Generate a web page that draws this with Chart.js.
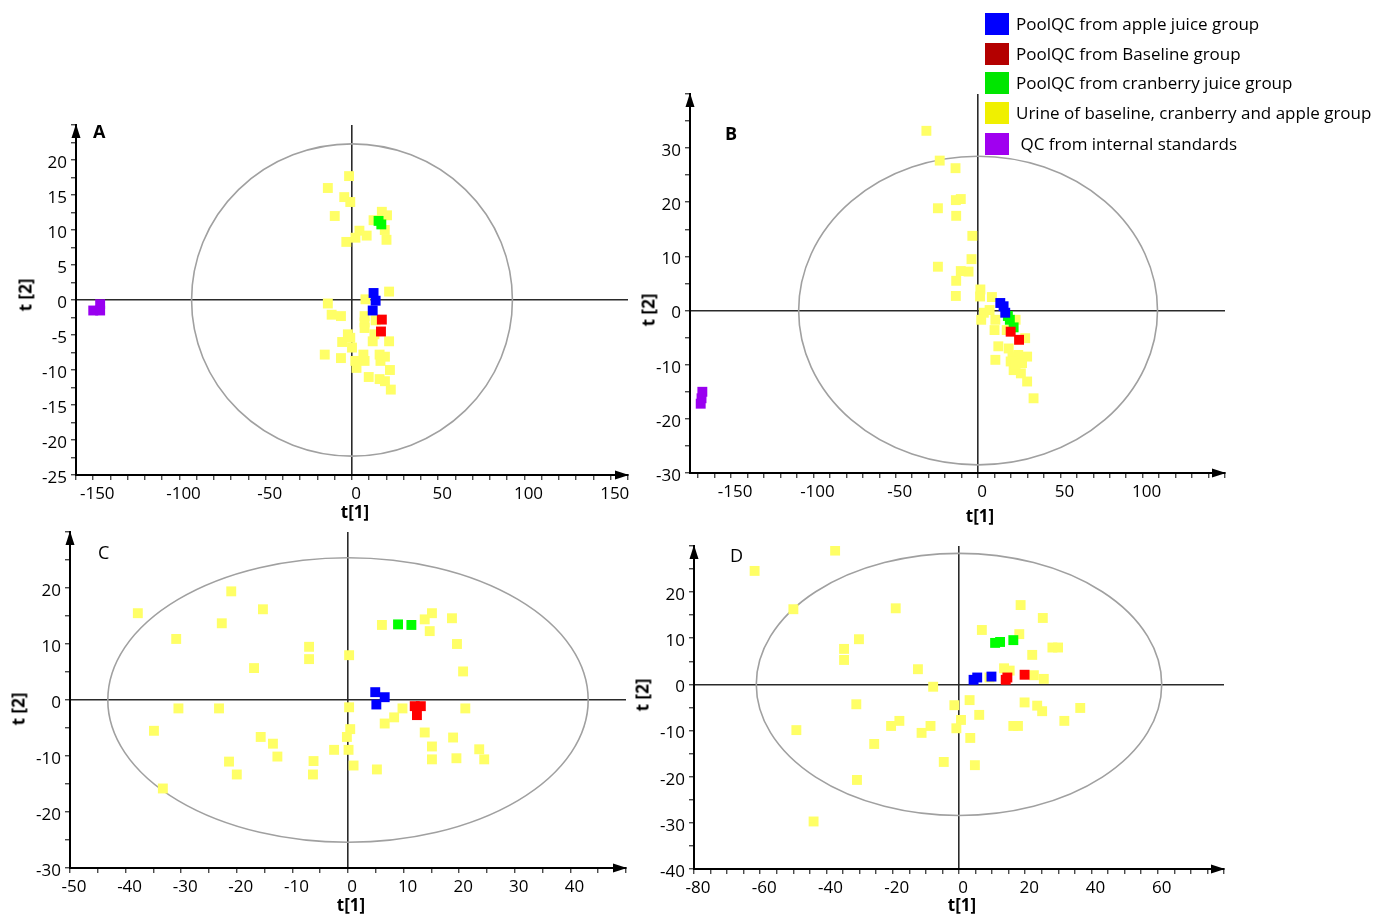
<!DOCTYPE html>
<html>
<head>
<meta charset="utf-8">
<script src="https://cdn.jsdelivr.net/npm/chart.js@4.4.1/dist/chart.umd.min.js"></script>
<style>
body { margin: 0; background: #fff; width: 1376px; height: 914px; position: relative; overflow: hidden; font-family: "Open Sans", sans-serif; color: #000; }
canvas { position: absolute; }
.txt { position: absolute; font-size: 17px; line-height: 17px; white-space: nowrap; }
.title { font-weight: bold; transform: translate(-50%, -50%); }
.ytitle { font-weight: bold; transform: translate(-50%, -50%) rotate(-90deg); }
.leg-box { position: absolute; left: 985px; width: 24px; height: 22px; }
.leg-text { position: absolute; left: 1016px; font-size: 17px; line-height: 22px; white-space: nowrap; }
</style>
</head>
<body>
<canvas id="chartA"></canvas>
<canvas id="chartB"></canvas>
<canvas id="chartC"></canvas>
<canvas id="chartD"></canvas>

<div class="txt" style="left:93px;top:123px;font-weight:bold;font-size:18px">A</div>
<div class="txt" style="left:725px;top:125px;font-weight:bold;font-size:18px">B</div>
<div class="txt" style="left:98px;top:544px;font-size:18px">C</div>
<div class="txt" style="left:730px;top:547px;font-size:18px">D</div>

<div class="txt title" style="left:355px;top:511px">t[1]</div>
<div class="txt title" style="left:980px;top:515px">t[1]</div>
<div class="txt title" style="left:351px;top:904px">t[1]</div>
<div class="txt title" style="left:962px;top:904px">t[1]</div>
<div class="txt ytitle" style="left:25px;top:295px">t [2]</div>
<div class="txt ytitle" style="left:648px;top:310px">t [2]</div>
<div class="txt ytitle" style="left:18px;top:709px">t [2]</div>
<div class="txt ytitle" style="left:642px;top:695px">t [2]</div>

<div id="legend"></div>

<script>
// legend
const legendLabels = [
    "PoolQC from apple juice group",
    "PoolQC from Baseline group",
    "PoolQC from cranberry juice group",
    "Urine of baseline, cranberry and apple group",
    "\u00a0QC from internal standards"
];
const legendColors = ['#0000ff', '#b40000', '#00e600', '#f0f000', '#a000f0'];
const legendTops = [13, 43, 72, 102, 133];

// point colours in the plots
const pointColors = {
    apple: '#0000ff',
    baseline: '#ff0000',
    cranberry: '#00ff00',
    urine: '#ffff66',
    istd: '#9900f0'
};

// ---- panel A ----
const A_apple = [[12.5, 1.0], [13.7, -0.1], [12.0, -1.5]];
const A_baseline = [[17.3, -2.8], [16.8, -4.5]];
const A_cranberry = [[15.4, 11.3], [17.0, 10.8]];
const A_istd = [[-146, -0.6], [-150, -1.5], [-146, -1.5]];
const A_urine = [
    [-1.7, 17.7], [-14, 16], [-4.5, 14.7], [-1, 14], [-10, 12], [17.3, 12.6], [20.3, 12.1],
    [12.5, 11.4], [19, 10], [4.3, 9.9], [8.5, 9.2], [2, 8.9], [-3.3, 8.3], [20, 8.6],
    [21.5, 1.2], [7.8, 0.1], [-14, -0.5], [-11.8, -2.1], [-6.4, -2.3], [7.3, -2.3], [7.3, -3.2],
    [7.3, -4], [13.7, -2.9], [13, -4.9], [-2.4, -4.9], [-1, -5.4], [-5.7, -6], [12, -5.9],
    [21.5, -5.9], [0, -6.8], [-15.8, -7.8], [-6.4, -8.3], [6.6, -7.8], [1.9, -8.7], [7.3, -8.7],
    [2.6, -9.7], [16, -7.8], [19.1, -8.1], [16.5, -8.7], [22, -10], [9.7, -11], [16, -11.3],
    [19.1, -11.6], [22.5, -12.8]
];
const A_xTickLabels = [-150, -100, -50, 0, 50, 100, 150];
const A_yTickLabels = [-25, -20, -15, -10, -5, 0, 5, 10, 15, 20];

// ---- panel B ----
const B_apple = [[13.5, 1.4], [15.5, 0.8], [16.5, -0.4]];
const B_baseline = [[19.8, -3.9], [24.9, -5.4]];
const B_cranberry = [[18.1, -1.0], [19.3, -1.7], [21.6, -3.1]];
const B_istd = [[-167.5, -15], [-168, -16.2], [-168.5, -17.2]];
const B_urine = [
    [-31.4, 33.2], [-23.3, 27.7], [-13.7, 26.3], [-13.5, 20.4], [-10.5, 20.6], [-24.4, 18.9],
    [-13.3, 17.5], [-3.5, 13.8], [-4, 9.5], [-24.4, 8.1], [-10.5, 7.3], [-5.8, 7.2], [-13.3, 5.5],
    [-13.5, 2.7], [1.4, 3.9], [1.2, 2.6], [8.4, 2.5], [7, 0.1], [3.5, -0.4], [1.9, -1.7],
    [10.5, -1.7], [10, -3.6], [17.4, -3.6], [22.8, -1.7], [28.6, -5.1], [12.3, -6.6], [18.6, -7],
    [20.9, -8.5], [24.4, -8.2], [29.8, -8.5], [26.7, -9.7], [19.8, -9.4], [10.5, -9.1],
    [21.6, -11], [26, -11.6], [29.8, -13.1], [33.7, -16.2], [22.8, -10]
];
const B_xTickLabels = [-150, -100, -50, 0, 50, 100];
const B_yTickLabels = [-30, -20, -10, 0, 10, 20, 30];

// ---- panel C ----
const C_apple = [[4.9, 1.4], [6.6, 0.5], [5.1, -0.8]];
const C_baseline = [[12.0, -1.1], [13.1, -1.1], [12.4, -2.7]];
const C_cranberry = [[9.0, 13.5], [11.4, 13.4]];
const C_istd = [];
const C_urine = [
    [-37.8, 15.5], [-21, 19.4], [-15.3, 16.2], [-22.7, 13.7], [-30.9, 10.9], [-7, 9.5], [-7, 7.3],
    [0.2, 8], [-16.9, 5.7], [6.1, 13.4], [13.8, 14.4], [15.1, 15.5], [18.7, 14.6], [14.7, 12.3],
    [19.6, 10], [20.7, 5.1], [-30.5, -1.5], [-23.2, -1.5], [0.2, -1.3], [9.8, -1.5], [21.1, -1.5],
    [8.3, -3.1], [6.6, -4.2], [-34.9, -5.5], [-15.7, -6.6], [-13.5, -7.8], [0.4, -5.2], [-0.2, -6.6],
    [13.8, -5.8], [18.9, -6.7], [15.1, -8.3], [-2.5, -8.9], [0.1, -8.9], [-12.7, -10.1], [-21.4, -11],
    [-6.2, -10.9], [15.1, -10.6], [19.5, -10.4], [23.6, -8.8], [24.5, -10.6], [1, -11.7], [5.2, -12.4],
    [-20, -13.3], [-6.3, -13.3], [-33.3, -15.8]
];
const C_xTickLabels = [-50, -40, -30, -20, -10, 0, 10, 20, 30, 40];
const C_yTickLabels = [-30, -20, -10, 0, 10, 20];

// ---- panel D ----
const D_apple = [[4.4, 1.0], [5.5, 1.5], [9.8, 1.7]];
const D_baseline = [[14.1, 1.0], [14.6, 1.5], [19.8, 2.1]];
const D_cranberry = [[10.9, 9.0], [12.4, 9.2], [16.4, 9.6]];
const D_istd = [];
const D_urine = [
    [-37.4, 29], [-61.7, 24.6], [-50, 16.3], [-19.1, 16.5], [18.6, 17.2], [25.3, 14.4], [6.9, 11.8],
    [18.2, 10.9], [-30.2, 9.8], [-34.7, 7.7], [-34.7, 5.3], [28.2, 8], [29.9, 8], [22.1, 6.4],
    [-12.4, 3.3], [13.6, 3.5], [15.3, 3], [9.2, 1.5], [22.6, 2], [25.6, 1.2], [-7.8, -0.5],
    [-31, -4.3], [3.2, -3.4], [-1.4, -4.5], [19.8, -3.9], [23.6, -4.6], [25.1, -5.8], [36.6, -5.1],
    [6.1, -6.6], [-18, -7.9], [-20.5, -9], [0.6, -7.7], [-8.6, -9], [-0.8, -9.5], [16.4, -9],
    [17.8, -9], [31.8, -7.9], [-49.1, -9.9], [-11.3, -10.5], [3.4, -11.6], [-25.6, -12.9],
    [-4.6, -16.8], [4.8, -17.5], [-30.8, -20.7], [-43.9, -29.7]
];
const D_xTickLabels = [-80, -60, -40, -20, 0, 20, 40, 60];
const D_yTickLabels = [-40, -30, -20, -10, 0, 10, 20];

const FONT = "'Open Sans', sans-serif";

// legend boxes
const legendDiv = document.getElementById("legend");
legendLabels.forEach(function (label, i) {
    const box = document.createElement("div");
    box.className = "leg-box";
    box.style.top = legendTops[i] + "px";
    box.style.background = legendColors[i];
    legendDiv.appendChild(box);
    const txt = document.createElement("div");
    txt.className = "leg-text";
    txt.style.top = legendTops[i] + "px";
    txt.textContent = label;
    legendDiv.appendChild(txt);
});

function tickRange(from, to, step) {
    const out = [];
    for (let i = 0; from + i * step <= to; i++) out.push(from + i * step);
    return out;
}

// ellipse, arrows on axis ends
const pcaPlugin = {
    id: 'pca',
    beforeDatasetsDraw(chart, args, opts) {
        const xs = chart.scales.x, ys = chart.scales.y, ctx = chart.ctx;
        const cx = xs.getPixelForValue(0), cy = ys.getPixelForValue(0);
        const rx = xs.getPixelForValue(opts.rx) - cx;
        const ry = cy - ys.getPixelForValue(opts.ry);
        ctx.save();
        ctx.beginPath();
        ctx.ellipse(cx, cy, rx, ry, 0, 0, Math.PI * 2);
        ctx.strokeStyle = '#a0a0a0';
        ctx.lineWidth = 1.6;
        ctx.stroke();
        ctx.restore();
    },
    afterDraw(chart) {
        const a = chart.chartArea, ctx = chart.ctx;
        ctx.save();
        ctx.fillStyle = '#000';
        ctx.beginPath();
        ctx.moveTo(a.right + 1, a.bottom);
        ctx.lineTo(a.right - 13, a.bottom - 4.5);
        ctx.lineTo(a.right - 13, a.bottom + 4.5);
        ctx.closePath();
        ctx.fill();
        ctx.beginPath();
        ctx.moveTo(a.left, a.top - 1);
        ctx.lineTo(a.left - 4.5, a.top + 13);
        ctx.lineTo(a.left + 4.5, a.top + 13);
        ctx.closePath();
        ctx.fill();
        ctx.restore();
    }
};

function zeroGrid(c) {
    return (c.tick && c.tick.value === 0) ? '#2a2a2a' : 'rgba(0,0,0,0)';
}

function makePanel(p) {
    const cv = document.getElementById(p.id);
    cv.width = p.box[2];
    cv.height = p.box[3];
    cv.style.left = p.box[0] + "px";
    cv.style.top = p.box[1] + "px";
    const XH = 40;

    const xTicks = tickRange(p.xMinorFrom, p.xMax, p.xMinor);
    const yTicks = tickRange(p.yMinorFrom, p.yMax, p.yMinor);

    function ds(points, color) {
        return {
            data: points.map(pt => ({ x: pt[0], y: pt[1] })),
            backgroundColor: color,
            pointStyle: 'rect',
            pointRadius: 7,
            pointHoverRadius: 7,
            borderWidth: 0
        };
    }

    return new Chart(cv, {
        type: 'scatter',
        data: {
            datasets: [
                ds(p.apple, pointColors.apple),
                ds(p.baseline, pointColors.baseline),
                ds(p.cranberry, pointColors.cranberry),
                ds(p.istd, pointColors.istd),
                ds(p.urine, pointColors.urine)
            ]
        },
        options: {
            responsive: false,
            animation: false,
            layout: {
                padding: { left: 0, top: p.area[1], right: p.box[2] - p.area[2], bottom: p.box[3] - p.area[3] - XH }
            },
            plugins: {
                legend: { display: false },
                tooltip: { enabled: false },
                pca: { rx: p.ellipse[0], ry: p.ellipse[1] }
            },
            scales: {
                x: {
                    type: 'linear',
                    min: p.xMin,
                    max: p.xMax,
                    afterBuildTicks: s => { s.ticks = xTicks.map(v => ({ value: v })); },
                    afterFit: s => { s.height = XH; s.paddingLeft = 0; s.paddingRight = 0; },
                    ticks: {
                        autoSkip: false, maxRotation: 0, padding: 4, labelOffset: 4, color: '#000',
                        font: { family: FONT, size: 17 },
                        callback: v => p.xLabels.includes(v) ? String(v) : ''
                    },
                    grid: { color: zeroGrid, lineWidth: 1.6, tickColor: '#000', tickLength: 5, tickWidth: 1 },
                    border: { display: true, color: '#000', width: 2 }
                },
                y: {
                    type: 'linear',
                    min: p.yMin,
                    max: p.yMax,
                    afterBuildTicks: s => { s.ticks = yTicks.map(v => ({ value: v })); },
                    afterFit: s => { s.width = p.area[0]; s.paddingTop = 0; s.paddingBottom = 0; },
                    ticks: {
                        autoSkip: false, padding: 4, labelOffset: 3, color: '#000',
                        font: { family: FONT, size: 17 },
                        callback: v => p.yLabels.includes(v) ? String(v) : ''
                    },
                    grid: { color: zeroGrid, lineWidth: 1.6, tickColor: '#000', tickLength: 5, tickWidth: 1 },
                    border: { display: true, color: '#000', width: 2 }
                }
            }
        },
        plugins: [pcaPlugin]
    });
}

makePanel({
    id: 'chartA', box: [0, 110, 640, 420], area: [76, 15, 628, 365],
    xMin: -160, xMax: 160, yMin: -25, yMax: 25,
    xMinorFrom: -160, xMinor: 10, yMinorFrom: -25, yMinor: 2.5,
    xLabels: A_xTickLabels, yLabels: A_yTickLabels, ellipse: [93, 22.3],
    apple: A_apple, baseline: A_baseline, cranberry: A_cranberry, istd: A_istd, urine: A_urine
});
makePanel({
    id: 'chartB', box: [630, 80, 610, 450], area: [60, 14, 595, 393],
    xMin: -175, xMax: 150, yMin: -30, yMax: 40,
    xMinorFrom: -170, xMinor: 10, yMinorFrom: -30, yMinor: 5,
    xLabels: B_xTickLabels, yLabels: B_yTickLabels, ellipse: [109, 28.5],
    apple: B_apple, baseline: B_baseline, cranberry: B_cranberry, istd: B_istd, urine: B_urine
});
makePanel({
    id: 'chartC', box: [0, 520, 640, 394], area: [70, 12, 626, 348],
    xMin: -50, xMax: 50, yMin: -30, yMax: 30,
    xMinorFrom: -50, xMinor: 5, yMinorFrom: -30, yMinor: 5,
    xLabels: C_xTickLabels, yLabels: C_yTickLabels, ellipse: [43.2, 25.4],
    apple: C_apple, baseline: C_baseline, cranberry: C_cranberry, istd: C_istd, urine: C_urine
});
makePanel({
    id: 'chartD', box: [630, 530, 610, 384], area: [64, 16, 594, 339],
    xMin: -80, xMax: 80, yMin: -40, yMax: 30,
    xMinorFrom: -80, xMinor: 5, yMinorFrom: -40, yMinor: 5,
    xLabels: D_xTickLabels, yLabels: D_yTickLabels, ellipse: [61.2, 28.4],
    apple: D_apple, baseline: D_baseline, cranberry: D_cranberry, istd: D_istd, urine: D_urine
});
</script>
</body>
</html>
